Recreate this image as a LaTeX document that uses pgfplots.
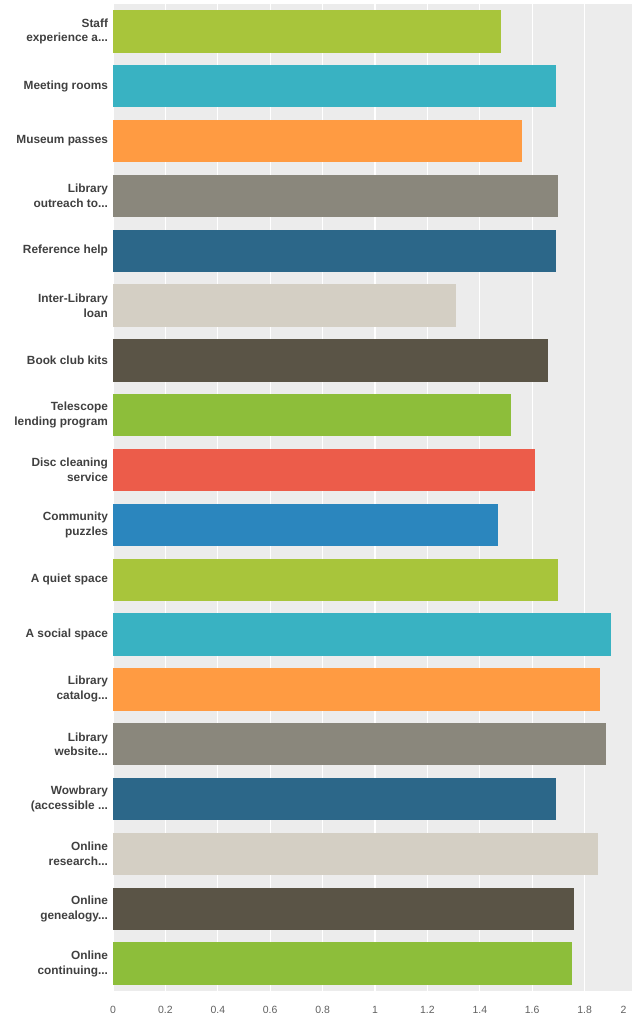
\documentclass[border=0pt]{standalone}
\usepackage{fontspec}
\setmainfont{Liberation Sans}
\usepackage{pgfplots}
\pgfplotsset{compat=1.18}
\definecolor{cgreen}{HTML}{A8C53B}
\definecolor{cgreenb}{HTML}{8DBE3A}
\definecolor{cteal}{HTML}{39B2C2}
\definecolor{corange}{HTML}{FF9B42}
\definecolor{cgray}{HTML}{8A877C}
\definecolor{cdblue}{HTML}{2C6789}
\definecolor{cbeige}{HTML}{D4CFC4}
\definecolor{cbrown}{HTML}{5A5446}
\definecolor{cred}{HTML}{EC5C4A}
\definecolor{cblue}{HTML}{2B86BE}
\definecolor{bgc}{HTML}{ECECEC}
\definecolor{labc}{HTML}{404040}
\definecolor{tickc}{HTML}{606060}
\newcommand{\dd}{.{}.{}.}
\pgfplotsset{mybar/.style={xbar, bar shift=0pt, draw=none, fill=#1}}
\begin{document}
\begin{tikzpicture}
\begin{axis}[
  scale only axis, width=524bp, height=987bp,
  xmin=0, xmax=2, ymin=-0.5, ymax=17.5, y dir=reverse,
  bar width=0.77,
  axis background/.style={fill=bgc},
  axis line style={draw=none},
  xmajorgrids, grid style={white, line width=1.3bp},
  xtick={0,0.2,0.4,0.6,0.8,1,1.2,1.4,1.6,1.8},
  xticklabels={0,0.2,0.4,0.6,0.8,1,1.2,1.4,1.6,1.8},
  extra x ticks={2},
  extra x tick labels={2},
  extra x tick style={xticklabel style={anchor=north east, xshift=-7bp}},
  ytick={0,1,2,3,4,5,6,7,8,9,10,11,12,13,14,15,16,17},
  yticklabels={{Staff\\experience a\dd},{Meeting rooms},{Museum passes},{Library\\outreach to\dd},{Reference help},{Inter-Library\\loan},{Book club kits},{Telescope\\lending program},{Disc cleaning\\service},{Community\\puzzles},{A quiet space},{A social space},{Library\\catalog\dd},{Library\\website\dd},{Wowbrary\\(accessible \dd},{Online\\research\dd},{Online\\genealogy\dd},{Online\\continuing\dd}},
  major tick length=0pt,
  tick style={draw=none},
  yticklabel style={align=right, font=\bfseries\fontsize{11.9}{15}\selectfont, text=labc, xshift=-1.5bp},
  xticklabel style={font=\fontsize{10.5}{12}\selectfont, text=tickc, yshift=-12bp},
  /pgf/number format/assume math mode=true,
]
\addplot[mybar=cgreen]  coordinates {(1.48,0)};
\addplot[mybar=cteal]   coordinates {(1.69,1)};
\addplot[mybar=corange] coordinates {(1.56,2)};
\addplot[mybar=cgray]   coordinates {(1.70,3)};
\addplot[mybar=cdblue]  coordinates {(1.69,4)};
\addplot[mybar=cbeige]  coordinates {(1.31,5)};
\addplot[mybar=cbrown]  coordinates {(1.66,6)};
\addplot[mybar=cgreenb] coordinates {(1.52,7)};
\addplot[mybar=cred]    coordinates {(1.61,8)};
\addplot[mybar=cblue]   coordinates {(1.47,9)};
\addplot[mybar=cgreen]  coordinates {(1.70,10)};
\addplot[mybar=cteal]   coordinates {(1.90,11)};
\addplot[mybar=corange] coordinates {(1.86,12)};
\addplot[mybar=cgray]   coordinates {(1.88,13)};
\addplot[mybar=cdblue]  coordinates {(1.69,14)};
\addplot[mybar=cbeige]  coordinates {(1.85,15)};
\addplot[mybar=cbrown]  coordinates {(1.76,16)};
\addplot[mybar=cgreenb] coordinates {(1.75,17)};
\end{axis}
\pgfresetboundingbox
\path[use as bounding box] ([shift={(-113bp,-34bp)}]current axis.south west) rectangle ([shift={(519bp,4bp)}]current axis.north west);
\end{tikzpicture}
\end{document}
